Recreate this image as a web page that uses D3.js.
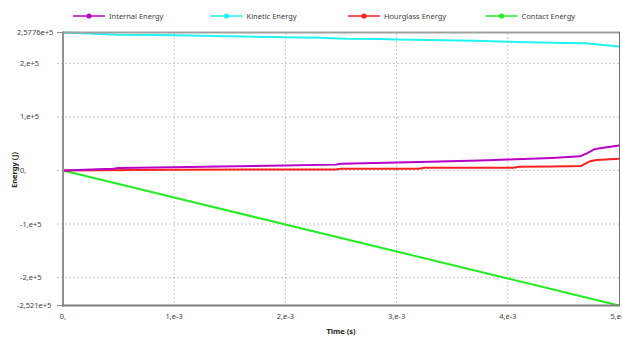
<!DOCTYPE html>
<html>
<head>
<meta charset="utf-8">
<script src="https://cdn.jsdelivr.net/npm/d3@7"></script>
<style>
  body { margin: 0; background: #fff; }
  svg { display: block; font-family: "Noto Sans", "Open Sans", sans-serif; }
</style>
</head>
<body>
<svg id="chart" width="622" height="337"></svg>
<script>
// time in ms, energy in J
const internalT = [0, 0.45, 0.5, 1.0, 1.4, 1.85, 2.45, 2.5, 3.0, 3.3, 3.75, 4.0, 4.4, 4.65, 4.72, 4.78, 4.86, 5.0];
const internalE = [0, 3500, 4700, 6200, 7500, 8800, 11000, 12500, 14900, 16200, 18600, 20500, 23500, 26500, 33000, 40000, 42500, 46600];

const kineticT = [0, 0.5, 1.0, 1.5, 2.0, 2.3, 2.55, 2.85, 3.0, 3.7, 4.0, 4.5, 4.7, 5.0];
const kineticE = [257760, 253500, 252600, 250700, 248800, 247900, 246000, 245500, 244700, 242300, 240400, 238000, 237600, 231700];

const hourglassT = [0, 1.0, 1.6, 2.45, 2.5, 3.2, 3.25, 4.05, 4.1, 4.4, 4.66, 4.74, 4.8, 5.0];
const hourglassE = [0, 1200, 1900, 2000, 3200, 3300, 5000, 5100, 6900, 7500, 8500, 17500, 19500, 21800];

const contactT = [0, 1, 2, 3, 4, 5];
const contactE = [0, -50400, -100800, -151200, -201600, -252100];

const seriesNames  = ["Internal Energy", "Kinetic Energy", "Hourglass Energy", "Contact Energy"];
const seriesColors = ["#b800c8", "#1ff4f4", "#ff2020", "#22ee22"];

const yTicks      = [-252100, -200000, -100000, 0, 100000, 200000, 257760];
const yTickLabels = ["-2,521e+5", "-2,e+5", "-1,e+5", "0,", "1,e+5", "2,e+5", "2,5776e+5"];
const xTicks      = [0, 1, 2, 3, 4, 5];
const xTickLabels = ["0,", "1,e-3", "2,e-3", "3,e-3", "4,e-3", "5,e-3"];

const svg = d3.select("#chart");
const x = d3.scaleLinear().domain([0, 5]).range([63, 619]);
const y = d3.scaleLinear().domain([-252100, 257760]).range([305.5, 32.5]);

const textCol = "#404040";

// gridlines
svg.append("g").selectAll("line")
  .data(yTicks.filter(d => d !== -252100 && d !== 257760))
  .join("line")
  .attr("x1", 57).attr("x2", 619)
  .attr("y1", d => y(d)).attr("y2", d => y(d))
  .attr("stroke", "#c8c8c8").attr("stroke-dasharray", "2,2");

svg.append("g").selectAll("line")
  .data(xTicks.slice(1, -1))
  .join("line")
  .attr("x1", d => x(d)).attr("x2", d => x(d))
  .attr("y1", 33).attr("y2", 305)
  .attr("stroke", "#c8c8c8").attr("stroke-dasharray", "2,2");

// y tick marks for ends
svg.append("g").selectAll("line")
  .data([-252100, 257760])
  .join("line")
  .attr("x1", 57).attr("x2", 63)
  .attr("y1", d => y(d)).attr("y2", d => y(d))
  .attr("stroke", "#909090");

// series
const series = [
  [internalT, internalE],
  [kineticT, kineticE],
  [hourglassT, hourglassE],
  [contactT, contactE]
];
const line = d3.line().x(d => x(d[0])).y(d => y(d[1]));

// draw order: contact, hourglass, internal, kinetic
[3, 2, 0, 1].forEach(i => {
  const [ts, es] = series[i];
  svg.append("path")
    .datum(ts.map((t, k) => [t, es[k]]))
    .attr("d", line)
    .attr("fill", "none")
    .attr("stroke", seriesColors[i])
    .attr("stroke-width", 2);
});

// frame
svg.append("line").attr("x1", 63).attr("x2", 620).attr("y1", 32.5).attr("y2", 32.5)
  .attr("stroke", "#a0a0a0").attr("stroke-width", 2);
svg.append("line").attr("x1", 619.5).attr("x2", 619.5).attr("y1", 32).attr("y2", 306)
  .attr("stroke", "#707070").attr("stroke-width", 1);
svg.append("line").attr("x1", 63).attr("x2", 63).attr("y1", 31.5).attr("y2", 306.5)
  .attr("stroke", "#909090").attr("stroke-width", 2);
svg.append("line").attr("x1", 62).attr("x2", 620).attr("y1", 305.5).attr("y2", 305.5)
  .attr("stroke", "#808080").attr("stroke-width", 2);

// tick labels
svg.append("g").selectAll("text")
  .data(yTicks)
  .join("text")
  .attr("x", (d, i) => yTickLabels[i].length > 7 ? 17 : 20)
  .attr("y", d => y(d) + 2.5)
  .attr("font-size", 7.5)
  .attr("fill", textCol)
  .text((d, i) => yTickLabels[i]);

svg.append("g").selectAll("text")
  .data(xTicks)
  .join("text")
  .attr("x", d => x(d))
  .attr("y", 319)
  .attr("text-anchor", "middle")
  .attr("font-size", 7.5)
  .attr("fill", textCol)
  .text((d, i) => xTickLabels[i]);

// axis titles
svg.append("text")
  .attr("x", 341).attr("y", 334)
  .attr("text-anchor", "middle")
  .attr("font-size", 7.5).attr("font-weight", "bold")
  .attr("fill", "#222")
  .text("Time (s)");

svg.append("text")
  .attr("transform", "translate(17,170) rotate(-90)")
  .attr("text-anchor", "middle")
  .attr("font-size", 7.5).attr("font-weight", "bold")
  .attr("fill", "#222")
  .text("Energy (J)");

// legend
const legend = svg.append("g").selectAll("g")
  .data(seriesNames)
  .join("g")
  .attr("transform", (d, i) => `translate(${73 + i * 137.5},16)`);
legend.append("line")
  .attr("x1", 0).attr("x2", 32)
  .attr("stroke", (d, i) => seriesColors[i]).attr("stroke-width", 1.5);
legend.append("circle")
  .attr("cx", 16).attr("r", 2.6)
  .attr("fill", (d, i) => seriesColors[i]);
legend.append("text")
  .attr("x", 36).attr("y", 2.5)
  .attr("font-size", 7.5)
  .attr("fill", textCol)
  .text(d => d);
</script>
</body>
</html>
